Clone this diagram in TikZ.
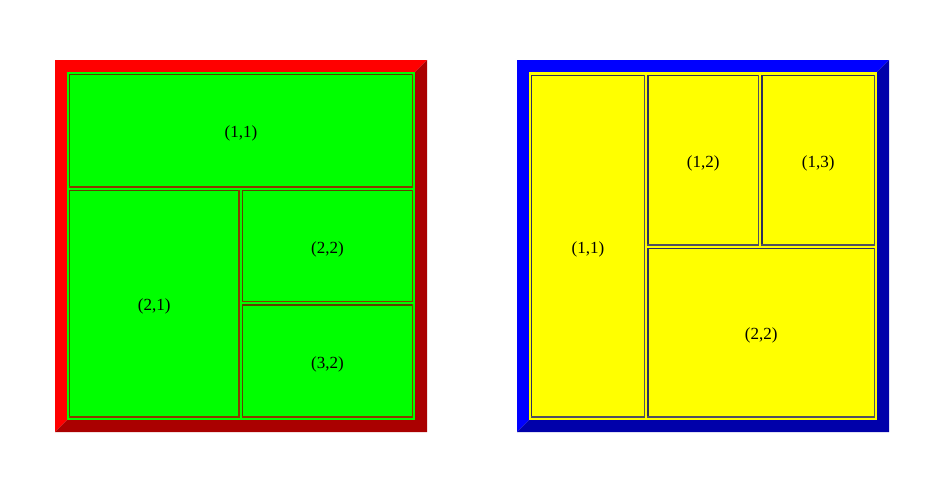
\documentclass[tikz,border=0pt]{standalone}
\usepackage{fontspec}
\setmainfont{Liberation Serif}
\definecolor{bgreen}{HTML}{00FF00}
\definecolor{byellow}{HTML}{FFFF00}
\definecolor{bred}{HTML}{FF0000}
\definecolor{bdred}{HTML}{AA0000}
\definecolor{bblue}{HTML}{0000FF}
\definecolor{bdblue}{HTML}{0000AA}
\definecolor{gline}{HTML}{8A3A00}
\definecolor{gdline}{HTML}{604000}
\definecolor{yline}{HTML}{505060}
\definecolor{ydline}{HTML}{30305A}
\newcommand\tblbevel[7]{%
  \fill[#5] (#1,#2) -- (#3,#2) -- ({#3-12},{#2+12}) -- ({#1+12},{#2+12}) -- ({#1+12},{#4-12}) -- (#1,#4) -- cycle;
  \fill[#6] (#3,#2) -- (#3,#4) -- (#1,#4) -- ({#1+12},{#4-12}) -- ({#3-12},{#4-12}) -- ({#3-12},{#2+12}) -- cycle;
  \fill[#7] ({#1+12},{#2+12}) rectangle ({#3-12},{#4-12});
}
\newcommand\tblcell[8]{%
  \draw[cellline,#6] (#2,#5) -- (#2,#3) -- (#4,#3);
  \draw[cellline,#7] (#2,#5) -- (#4,#5) -- (#4,#3);
  \node[lbl] (#1) at ({(#2+#4)/2},{(#3+#5)/2+3}) {#8};
}
\begin{document}
\begin{tikzpicture}[x=1pt,y=-1pt]
\tikzset{
  lbl/.style={font=\fontsize{17}{19}\selectfont, inner sep=0pt, text=black},
  cellline/.style={line width=1.3pt, line cap=rect},
}
\useasboundingbox (0,0) rectangle (929,493);
% left table
\tblbevel{55}{60}{427}{432}{bred}{bdred}{bgreen}
\tblcell{L11}{69.5}{74.5}{412.5}{187}{gdline}{gline}{(1,1)}
\tblcell{L21}{69.5}{190.5}{239}{417}{gdline}{gline}{(2,1)}
\tblcell{L22}{242.5}{190.5}{412.5}{301.5}{gdline}{gline}{(2,2)}
\tblcell{L32}{242.5}{305}{412.5}{417}{gdline}{gline}{(3,2)}
% right table
\tblbevel{517}{60}{889}{432}{bblue}{bdblue}{byellow}
\tblcell{R11}{531.5}{75.5}{644.5}{417}{ydline}{yline}{(1,1)}
\tblcell{R12}{648}{75.5}{758.5}{245}{ydline}{yline}{(1,2)}
\tblcell{R13}{762}{75.5}{874.5}{245}{ydline}{yline}{(1,3)}
\tblcell{R22}{648}{248.5}{874.5}{417}{ydline}{yline}{(2,2)}
\end{tikzpicture}
\end{document}
